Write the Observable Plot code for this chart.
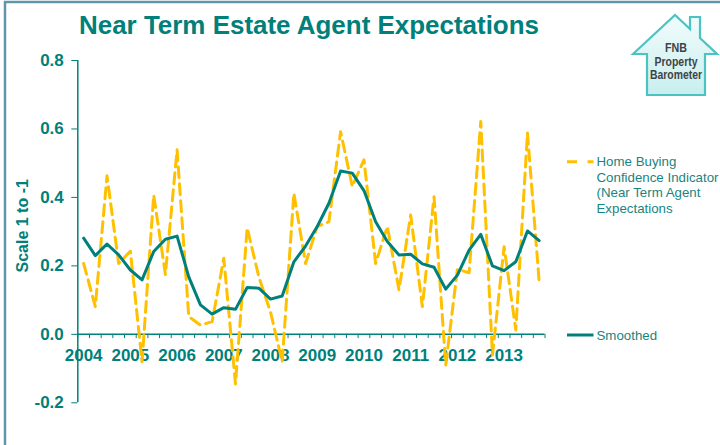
<!DOCTYPE html>
<html><head><meta charset="utf-8">
<script src="https://cdn.jsdelivr.net/npm/d3@7"></script>
<script src="https://cdn.jsdelivr.net/npm/@observablehq/plot@0.6"></script>
<style>
html,body{margin:0;padding:0;background:#fff;}
#wrap{position:relative;width:720px;height:445px;overflow:hidden;font-family:"Liberation Sans",Arial,sans-serif;}
#wrap svg{position:absolute;left:0;top:0;}
</style></head>
<body><div id="wrap"></div>
<script>
// ---- data ----
const title = "Near Term Estate Agent Expectations";
const yLabel = "Scale 1 to -1";
const years = ["2004","2005","2006","2007","2008","2009","2010","2011","2012","2013"];
const yTicks = [-0.2, 0, 0.2, 0.4, 0.6, 0.8];
const indicatorName = ["Home Buying", "Confidence Indicator", "(Near Term Agent", "Expectations"];
const smoothedName = ["Smoothed"];
const logoText = ["FNB", "Property", "Barometer"];
// quarterly values, 2004Q1 .. 2013Q4
const indicator = [0.207, 0.081, 0.463, 0.207, 0.243, -0.08, 0.407, 0.175, 0.539, 0.052,
                   0.027, 0.037, 0.222, -0.145, 0.311, 0.168, 0.065, -0.08, 0.412, 0.207,
                   0.315, 0.329, 0.592, 0.432, 0.51, 0.207, 0.315, 0.130, 0.349, 0.081,
                   0.402, -0.09, 0.19, 0.18, 0.622, -0.06, 0.256, 0.013, 0.588, 0.154];
const smoothed = [0.281, 0.230, 0.264, 0.232, 0.188, 0.159, 0.242, 0.278, 0.287, 0.168,
                  0.086, 0.059, 0.078, 0.073, 0.137, 0.135, 0.103, 0.112, 0.212, 0.258,
                  0.315, 0.383, 0.477, 0.471, 0.420, 0.329, 0.271, 0.232, 0.234, 0.206,
                  0.196, 0.132, 0.173, 0.246, 0.292, 0.200, 0.186, 0.212, 0.302, 0.274];

// ---- styles ----
const teal = "#00807b";
const gold = "#ffc000";
const font = '"Liberation Sans", Arial, sans-serif';

const rowsA = indicator.map((v, i) => ({q: i + 0.5, v}));
const rowsB = smoothed.map((v, i) => ({q: i + 0.5, v}));
const nQ = years.length * 4;
const quarterEdges = d3.range(0, nQ + 1);

const chart = Plot.plot({
  width: 720, height: 445,
  marginLeft: 77.3, marginRight: 175.5, marginTop: 60, marginBottom: 42.7,
  x: {domain: [0, nQ], axis: null},
  y: {domain: [-0.2, 0.8], axis: null},
  style: {fontFamily: font, color: teal, background: "transparent", overflow: "visible"},
  marks: [
    Plot.axisY(yTicks, {anchor: "left", tickSize: 6, tickPadding: 8, tickFormat: d => d.toFixed(1),
      fontSize: 17, fontWeight: "bold", label: null, stroke: teal, fill: teal}),
    Plot.ruleX([0], {y1: -0.2, y2: 0.8, stroke: teal, strokeWidth: 1.5}),
    Plot.ruleY([0], {x1: 0, x2: nQ, stroke: teal, strokeWidth: 1.5}),
    Plot.ruleX(quarterEdges, {x: d => d, y1: 0, y2: -0.0125, stroke: teal, strokeWidth: 1}),
    Plot.text(years, {x: (d, i) => i * 4 + 0.5, y: 0, dy: 21, text: d => d,
      fontSize: 17, fontWeight: "bold", fill: teal}),
    Plot.text([yLabel], {x: 0, y: 0.317, dx: -55, rotate: -90, text: d => d,
      fontSize: 16, fontWeight: "bold", fill: teal}),
    Plot.line(rowsA, {x: "q", y: "v", stroke: gold, strokeWidth: 3, strokeDasharray: "11,6"}),
    Plot.line(rowsB, {x: "q", y: "v", stroke: teal, strokeWidth: 3})
  ]
});
const wrap = document.getElementById("wrap");
wrap.appendChild(chart);

// ---- overlay: frame, title, legend, logo ----
const ov = d3.select(wrap).append("svg").attr("width", 720).attr("height", 445)
  .style("pointer-events", "none").style("font-family", font);

ov.append("line").attr("x1", 4).attr("x2", 720).attr("y1", 2).attr("y2", 2)
  .attr("stroke", "#5f97a8").attr("stroke-width", 2.5);
ov.append("line").attr("x1", 5).attr("x2", 5).attr("y1", 1).attr("y2", 445)
  .attr("stroke", "#5f97a8").attr("stroke-width", 2.5);

ov.append("text").attr("x", 79).attr("y", 34.3)
  .attr("textLength", 460).attr("lengthAdjust", "spacingAndGlyphs")
  .attr("font-size", 25.5).attr("font-weight", "bold").attr("fill", teal).text(title);

// legend
const lg = ov.append("g");
lg.append("line").attr("x1", 567).attr("x2", 593.5).attr("y1", 161.7).attr("y2", 161.7)
  .attr("stroke", gold).attr("stroke-width", 3).attr("stroke-dasharray", "10,10.5");
indicatorName.forEach((t, i) => lg.append("text").attr("x", 596.5).attr("y", 166.4 + i * 15.4)
  .attr("font-size", 13.3).attr("fill", "#17857f").text(t));
lg.append("line").attr("x1", 567).attr("x2", 593.5).attr("y1", 335).attr("y2", 335)
  .attr("stroke", teal).attr("stroke-width", 3);
smoothedName.forEach((t, i) => lg.append("text").attr("x", 596.5).attr("y", 339.7 + i * 15.4)
  .attr("font-size", 13.3).attr("fill", "#17857f").text(t));

// logo
const defs = ov.append("defs");
const gr = defs.append("linearGradient").attr("id", "hg").attr("x1", 0).attr("y1", 0).attr("x2", 0).attr("y2", 1);
gr.append("stop").attr("offset", "0%").attr("stop-color", "#f2fcfc");
gr.append("stop").attr("offset", "100%").attr("stop-color", "#c8eeee");
const house = "M633,54 L675,15 L690,29 L690,17 L700,17 L700,38 L717,54 L705,54 L705,95 L647,95 L647,54 Z";
ov.append("path").attr("d", house).attr("fill", "url(#hg)").attr("stroke", "#4cc3c3")
  .attr("stroke-width", 2.2).attr("stroke-linejoin", "miter");
const lw = [22, 43, 52];
logoText.forEach((t, i) => ov.append("text").attr("x", 676).attr("y", 52 + i * 13.5)
  .attr("text-anchor", "middle").attr("font-size", 12).attr("font-weight", "bold")
  .attr("fill", "#3d4446").attr("textLength", lw[i]).attr("lengthAdjust", "spacingAndGlyphs").text(t));
</script>
</body></html>
